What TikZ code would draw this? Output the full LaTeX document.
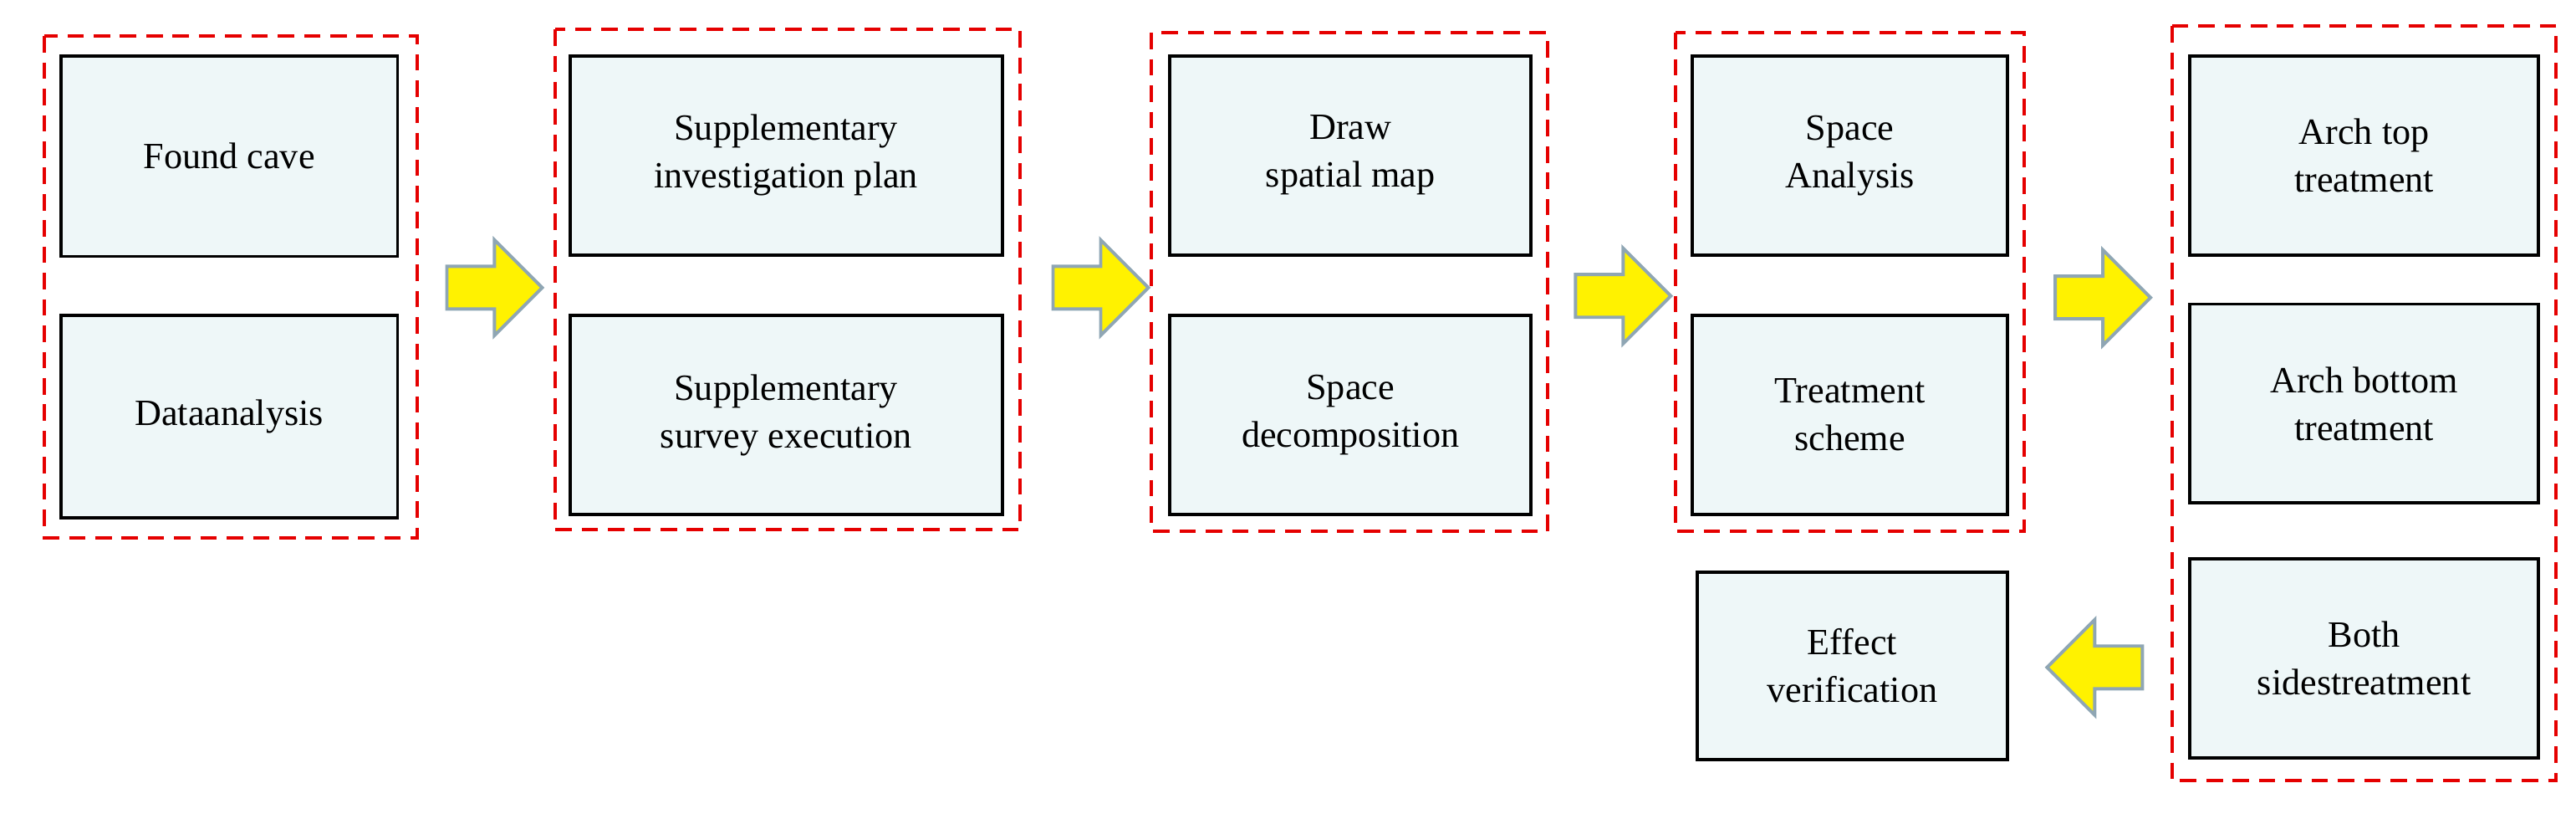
\documentclass[tikz,border=0pt]{standalone}
\usepackage{fontspec}
\setmainfont{Liberation Serif}
\definecolor{boxfill}{HTML}{EEF7F8}
\definecolor{arrline}{HTML}{8FA6B4}
\begin{document}
\begin{tikzpicture}[x=1pt,y=-1pt,
  box/.style={draw=black,line width=2pt,fill=boxfill,align=center,font=\fontsize{22.5}{29}\selectfont,inner sep=0pt},
  grp/.style={draw=red!90!black,line width=2pt,dash pattern=on 10pt off 6pt},
  arr/.style={draw=arrline,fill=yellow,line width=2pt,line join=miter}]
\useasboundingbox (0,0) rectangle (1568,498);
\newcommand{\bx}[6]{\node[box,minimum width=#3-#1,minimum height=#4-#2] (#5) at ({(#1+#3)/2},{(#2+#4)/2}) {#6};}
\newcommand{\gp}[5]{\draw[grp] (#1,#2) rectangle (#3,#4); \coordinate (#5) at (#1,#2);}
\newcommand{\arR}[3]{\coordinate (#3) at (#1,#2);
  \draw[arr] ([shift={(-29,-13)}]#3) -- ++(29,0) -- ++(0,-16) -- ([shift={(29,0)}]#3) -- ([shift={(0,29)}]#3) -- ++(0,-16) -- ([shift={(-29,13)}]#3) -- cycle;}
\newcommand{\arL}[3]{\coordinate (#3) at (#1,#2);
  \draw[arr] ([shift={(29,-13)}]#3) -- ++(-29,0) -- ++(0,-16) -- ([shift={(-29,0)}]#3) -- ([shift={(0,29)}]#3) -- ++(0,-16) -- ([shift={(29,13)}]#3) -- cycle;}
\gp{27}{22}{254}{327}{g1}
\gp{338}{18}{621}{322}{g2}
\gp{701}{20}{942}{323}{g3}
\gp{1020}{20}{1232}{323}{g4}
\gp{1322}{16}{1556}{475}{g5}
\bx{37}{34}{242}{156}{a1}{Found cave}
\bx{37}{192}{242}{315}{a2}{Dataanalysis}
\bx{347}{34}{610}{155}{b1}{Supplementary\\investigation plan}
\bx{347}{192}{610}{313}{b2}{Supplementary\\survey execution}
\bx{712}{34}{932}{155}{c1}{Draw\\spatial map}
\bx{712}{192}{932}{313}{c2}{Space\\decomposition}
\bx{1030}{34}{1222}{155}{d1}{Space\\Analysis}
\bx{1030}{192}{1222}{313}{d2}{Treatment\\scheme}
\bx{1333}{34}{1545}{155}{e1}{Arch top\\treatment}
\bx{1333}{185}{1545}{306}{e2}{Arch bottom\\treatment}
\bx{1333}{340}{1545}{461}{e3}{Both\\sidestreatment}
\bx{1033}{348}{1222}{462}{f1}{Effect\\verification}
\arR{301}{175}{p1}
\arR{670}{175}{p2}
\arR{988}{180}{p3}
\arR{1280}{181}{p4}
\arL{1275}{406}{p5}
\end{tikzpicture}
\end{document}
